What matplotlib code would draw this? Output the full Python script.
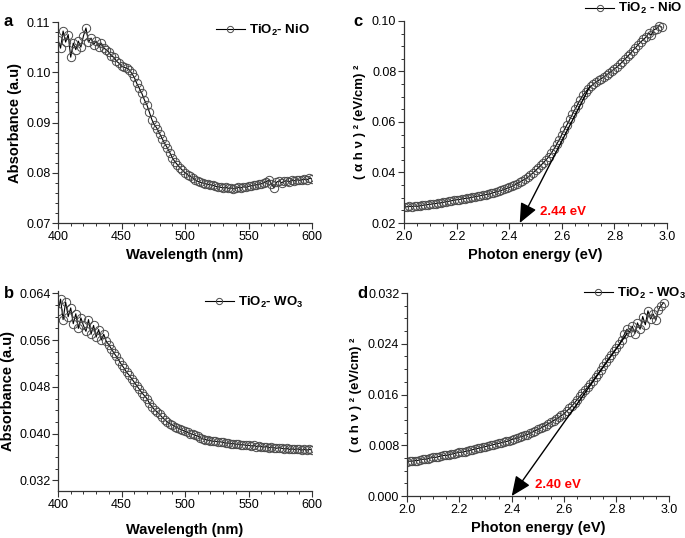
import numpy as np
import matplotlib
matplotlib.use("Agg")
import matplotlib.pyplot as plt

plt.rcParams["font.family"] = ["Liberation Sans", "DejaVu Sans"]
plt.rcParams["mathtext.fontset"] = "custom"
plt.rcParams["mathtext.rm"] = "Liberation Sans:bold"
plt.rcParams["mathtext.default"] = "rm"

# Absorbance spectra (wavelength in nm, 2 nm steps)
wavelength = np.arange(400, 601, 2)

abs_nio = [
    0.1065, 0.1048, 0.1082, 0.1060, 0.1075, 0.1030, 0.1058, 0.1045, 0.1062, 0.1050,
    0.1072, 0.1088, 0.1060, 0.1068, 0.1055, 0.1062, 0.1050, 0.1058, 0.1048, 0.1045,
    0.1040, 0.1032, 0.1030, 0.1022, 0.1018, 0.1012, 0.1010, 0.1008, 0.1005, 0.0998,
    0.0990, 0.0978, 0.0968, 0.0958, 0.0945, 0.0935, 0.0920, 0.0905, 0.0895, 0.0888,
    0.0878, 0.0868, 0.0858, 0.0850, 0.0840, 0.0830, 0.0822, 0.0816, 0.0810, 0.0805,
    0.0800, 0.0796, 0.0793, 0.0790, 0.0786, 0.0783, 0.0781, 0.0780, 0.0778, 0.0777,
    0.0776, 0.0775, 0.0773, 0.0772, 0.0771, 0.0770, 0.0771, 0.0769, 0.0770, 0.0768,
    0.0769, 0.0771, 0.0770, 0.0772, 0.0771, 0.0773, 0.0774, 0.0775, 0.0776, 0.0777,
    0.0778, 0.0780, 0.0782, 0.0786, 0.0778, 0.0770, 0.0781, 0.0784, 0.0780, 0.0783,
    0.0784, 0.0782, 0.0785, 0.0784, 0.0786, 0.0785, 0.0786, 0.0787, 0.0786, 0.0789,
    0.0788,
]

abs_wo3 = [
    0.0610, 0.0630, 0.0595, 0.0625, 0.0600, 0.0615, 0.0588, 0.0605, 0.0580, 0.0598,
    0.0585, 0.0575, 0.0595, 0.0570, 0.0585, 0.0565, 0.0578, 0.0560, 0.0570, 0.0558,
    0.0552, 0.0545, 0.0538, 0.0532, 0.0525, 0.0518, 0.0512, 0.0505, 0.0500, 0.0494,
    0.0488, 0.0482, 0.0476, 0.0470, 0.0465, 0.0460, 0.0452, 0.0446, 0.0441, 0.0437,
    0.0433, 0.0428, 0.0424, 0.0420, 0.0417, 0.0415, 0.0412, 0.0410, 0.0408, 0.0406,
    0.0404, 0.0402, 0.0400, 0.0399, 0.0397, 0.0396, 0.0393, 0.0391, 0.0390, 0.0389,
    0.0388, 0.0387, 0.0387, 0.0386, 0.0386, 0.0385, 0.0384, 0.0384, 0.0383, 0.0383,
    0.0382, 0.0382, 0.0381, 0.0381, 0.0380, 0.0380, 0.0379, 0.0380, 0.0378, 0.0379,
    0.0378, 0.0377, 0.0378, 0.0376, 0.0377, 0.0376, 0.0375, 0.0376, 0.0375, 0.0374,
    0.0375, 0.0373, 0.0374, 0.0373, 0.0374, 0.0373, 0.0372, 0.0373, 0.0372, 0.0373,
    0.0372,
]

# Tauc plots (photon energy in eV, 0.01 eV steps)
energy = np.round(np.arange(2.00, 2.985, 0.01), 2)

tauc_nio = [
    0.0265, 0.0264, 0.0266, 0.0265, 0.0267, 0.0266, 0.0268, 0.0270, 0.0271, 0.0273,
    0.0274, 0.0276, 0.0277, 0.0279, 0.0280, 0.0282, 0.0284, 0.0286, 0.0288, 0.0290,
    0.0292, 0.0293, 0.0295, 0.0297, 0.0298, 0.0300, 0.0302, 0.0304, 0.0306, 0.0308,
    0.0310, 0.0312, 0.0314, 0.0317, 0.0320, 0.0323, 0.0326, 0.0329, 0.0333, 0.0337,
    0.0341, 0.0345, 0.0350, 0.0356, 0.0362, 0.0368, 0.0374, 0.0381, 0.0389, 0.0398,
    0.0408, 0.0418, 0.0428, 0.0439, 0.0450, 0.0462, 0.0477, 0.0493, 0.0511, 0.0530,
    0.0550, 0.0570, 0.0590, 0.0610, 0.0630, 0.0650, 0.0669, 0.0688, 0.0705, 0.0719,
    0.0731, 0.0741, 0.0750, 0.0758, 0.0765, 0.0772, 0.0779, 0.0786, 0.0794, 0.0802,
    0.0810, 0.0818, 0.0828, 0.0838, 0.0849, 0.0860, 0.0871, 0.0883, 0.0894, 0.0906,
    0.0917, 0.0927, 0.0936, 0.0952, 0.0944, 0.0965, 0.0970, 0.0982, 0.0975,
]

tauc_wo3 = [
    0.0054, 0.0055, 0.0055, 0.0056, 0.0056, 0.0057, 0.0058, 0.0058, 0.0059, 0.0060,
    0.0061, 0.0061, 0.0062, 0.0063, 0.0064, 0.0064, 0.0065, 0.0066, 0.0067, 0.0068,
    0.0069, 0.0069, 0.0070, 0.0071, 0.0072, 0.0073, 0.0074, 0.0075, 0.0076, 0.0077,
    0.0078, 0.0079, 0.0080, 0.0081, 0.0082, 0.0083, 0.0084, 0.0085, 0.0086, 0.0087,
    0.0089, 0.0090, 0.0091, 0.0093, 0.0094, 0.0096, 0.0097, 0.0099, 0.0101, 0.0103,
    0.0105, 0.0107, 0.0109, 0.0111, 0.0114, 0.0116, 0.0119, 0.0121, 0.0124, 0.0127,
    0.0130, 0.0134, 0.0138, 0.0142, 0.0147, 0.0152, 0.0157, 0.0162, 0.0167, 0.0172,
    0.0177, 0.0182, 0.0188, 0.0193, 0.0199, 0.0205, 0.0211, 0.0217, 0.0222, 0.0228,
    0.0233, 0.0239, 0.0246, 0.0255, 0.0263, 0.0258, 0.0268, 0.0256, 0.0273, 0.0263,
    0.0283, 0.0270, 0.0292, 0.0279, 0.0287, 0.0277, 0.0294, 0.0300, 0.0305,
]

# band-gap tangent lines: (start point, end point on x axis)
fit_nio = [(2.706, 0.074), (2.44, 0.02)]
fit_wo3 = [(2.84, 0.0256), (2.40, 0.0)]
gap_nio = "2.44 eV"
gap_wo3 = "2.40 eV"

label_a = "TiO$_2$- NiO"
label_b = "TiO$_2$- WO$_3$"
label_c = "TiO$_2$ - NiO"
label_d = "TiO$_2$ - WO$_3$"
tauc_ylabel = "( \u03b1 h \u03bd ) \u00b2 (eV/cm) \u00b2"


def style_axes(ax):
    ax.spines["top"].set_visible(False)
    ax.spines["right"].set_visible(False)
    for s in ("left", "bottom"):
        ax.spines[s].set_linewidth(0.9)
        ax.spines[s].set_color("#333333")
    ax.minorticks_on()
    ax.tick_params(which="major", direction="out", length=4, width=0.8,
                   labelsize=9, colors="#333333", labelcolor="black", pad=1.5)
    ax.tick_params(which="minor", direction="out", length=2.5, width=0.7,
                   colors="#333333")


def plot_series(ax, x, y, label):
    ax.plot(x, y, "-", color="black", lw=0.8, marker="o", ms=6,
            mfc="none", mec="#4a4a4a", mew=0.7, label=label)


fig = plt.figure(figsize=(6.85, 5.38), dpi=100)
ax_a = fig.add_axes([0.0847, 0.5855, 0.3708, 0.3736])
ax_c = fig.add_axes([0.5898, 0.5855, 0.3840, 0.3755])
ax_b = fig.add_axes([0.0847, 0.0874, 0.3708, 0.3718])
ax_d = fig.add_axes([0.5940, 0.0780, 0.3825, 0.3773])

# panel a
plot_series(ax_a, wavelength, abs_nio, label_a)
ax_a.set_xlim(400, 600)
ax_a.set_ylim(0.07, 0.11)
ax_a.set_xticks([400, 450, 500, 550, 600])
ax_a.set_yticks([0.07, 0.08, 0.09, 0.10, 0.11])
ax_a.set_yticklabels(["0.07", "0.08", "0.09", "0.10", "0.11"])

# panel b
plot_series(ax_b, wavelength, abs_wo3, label_b)
ax_b.set_xlim(400, 600)
ax_b.set_ylim(0.0302, 0.0644)
ax_b.set_xticks([400, 450, 500, 550, 600])
ax_b.set_yticks([0.032, 0.040, 0.048, 0.056, 0.064])
ax_b.set_yticklabels(["0.032", "0.040", "0.048", "0.056", "0.064"])

# panel c
plot_series(ax_c, energy, tauc_nio, label_c)
ax_c.set_xlim(2.0, 3.0)
ax_c.set_ylim(0.02, 0.10)
ax_c.set_xticks([2.0, 2.2, 2.4, 2.6, 2.8, 3.0])
ax_c.set_yticks([0.02, 0.04, 0.06, 0.08, 0.10])
ax_c.set_yticklabels(["0.02", "0.04", "0.06", "0.08", "0.10"])

# panel d
plot_series(ax_d, energy, tauc_wo3, label_d)
ax_d.set_xlim(2.0, 3.0)
ax_d.set_ylim(0.0, 0.032)
ax_d.set_xticks([2.0, 2.2, 2.4, 2.6, 2.8, 3.0])
ax_d.set_yticks([0.0, 0.008, 0.016, 0.024, 0.032])
ax_d.set_yticklabels(["0.000", "0.008", "0.016", "0.024", "0.032"])

for ax in (ax_a, ax_b, ax_c, ax_d):
    style_axes(ax)

ax_a.set_xlabel("Wavelength (nm)", fontsize=10.5, fontweight="bold", labelpad=4)
ax_b.set_xlabel("Wavelength (nm)", fontsize=10.5, fontweight="bold", labelpad=9)
for ax in (ax_a, ax_b):
    ax.set_ylabel("Absorbance (a.u)", fontsize=10.5, fontweight="bold", labelpad=3)
for ax in (ax_c, ax_d):
    ax.set_xlabel("Photon energy (eV)", fontsize=10.5, fontweight="bold", labelpad=4)
    ax.set_ylabel(tauc_ylabel, fontsize=9.5, fontweight="bold", labelpad=4)

# tangent arrows and band-gap labels
for ax, fit, txt, dx, dy in ((ax_c, fit_nio, gap_nio, 0.077, 0.0044),
                             (ax_d, fit_wo3, gap_wo3, 0.088, 0.0017)):
    (x0, y0), (x1, y1) = fit
    ax.annotate("", xy=(x1, y1), xytext=(x0, y0),
                arrowprops=dict(arrowstyle="-|>,head_length=0.8,head_width=0.35",
                                color="black", lw=1.0, mutation_scale=15,
                                shrinkA=0, shrinkB=0))
    ax.text(x1 + dx, y1 + dy, txt, color="#ff0000", fontsize=9.5,
            fontweight="bold", va="center", ha="left")

# legends
leg_kw = dict(frameon=False, handlelength=2.2, handletextpad=0.3,
              borderpad=0, borderaxespad=0, loc="center right", markerscale=0.75,
              prop={"weight": "bold", "size": 9.5})
ax_a.legend(bbox_to_anchor=(0.99, 0.96), **leg_kw)
ax_b.legend(bbox_to_anchor=(0.965, 0.945), **leg_kw)
ax_c.legend(bbox_to_anchor=(1.06, 1.06), **leg_kw)
ax_d.legend(bbox_to_anchor=(1.065, 1.0), **leg_kw)

# panel letters
fig.text(3 / 685, 1 - 22 / 538, "a", fontsize=12, fontweight="bold", va="center")
fig.text(353 / 685, 1 - 22 / 538, "c", fontsize=12, fontweight="bold", va="center")
fig.text(4 / 685, 1 - 293 / 538, "b", fontsize=12, fontweight="bold", va="center")
fig.text(357 / 685, 1 - 293 / 538, "d", fontsize=12, fontweight="bold", va="center")

fig.savefig("out.png", dpi=100)
